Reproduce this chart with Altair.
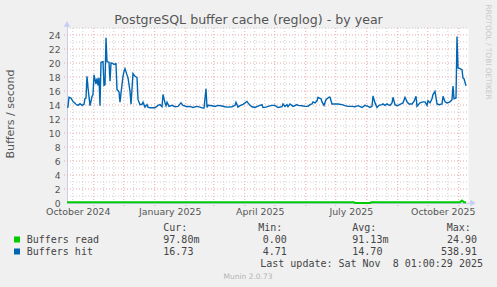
import altair as alt
import pandas as pd

# ---------------- data ----------------
# day offsets from the left edge of the plotted range (start date below)
hit_day = [
    0, 1, 2, 4, 6, 7, 9, 11, 13, 15,
    17, 18, 19, 20, 21, 23, 25, 26, 27, 29,
    30, 31, 32, 33, 34, 36, 37, 38, 39, 40,
    42, 43, 44, 46, 47, 49, 50, 52, 53, 54,
    56, 57, 58, 60, 61, 63, 64, 66, 68, 70,
    71, 73, 75, 76, 78, 80, 81, 83, 88, 91,
    93, 95, 96, 98, 99, 100, 102, 105, 108, 111,
    114, 116, 120, 123, 126, 130, 133, 136, 137, 139,
    140, 141, 145, 148, 151, 155, 158, 161, 165, 168,
    169, 171, 173, 176, 180, 181, 183, 185, 188, 191,
    195, 196, 199, 201, 205, 208, 211, 215, 216, 218,
    220, 221, 223, 226, 230, 231, 235, 238, 241, 243,
    245, 246, 248, 250, 251, 252, 254, 255, 257, 259,
    260, 262, 263, 265, 268, 271, 275, 278, 281, 285,
    288, 291, 295, 298, 301, 303, 305, 306, 308, 310,
    312, 315, 316, 318, 320, 321, 323, 325, 326, 328,
    330, 331, 334, 336, 338, 340, 342, 345, 347, 349,
    350, 353, 356, 358, 360, 361, 363, 365, 366, 368,
    370, 372, 375, 376, 378, 380, 383, 385, 386, 387,
    389, 390, 391, 393, 395, 396, 397, 399,
]
hit_value = [
    13.7, 13.7, 15.1, 15.0, 14.5, 14.4, 14.1, 13.95, 14.2, 13.95,
    14.1, 14.9, 15.0, 18.1, 16.5, 13.9, 15.2, 15.5, 18.3, 17.0,
    17.8, 16.8, 17.9, 13.9, 20.1, 20.2, 16.8, 16.9, 23.6, 20.2,
    20.1, 17.4, 20.0, 19.9, 19.8, 19.9, 16.2, 15.9, 14.4, 15.7,
    18.1, 18.8, 19.2, 18.3, 17.9, 15.95, 14.1, 18.5, 18.1, 17.95,
    14.8, 14.05, 14.1, 14.4, 13.7, 14.05, 13.7, 13.6, 13.6, 13.95,
    14.05, 13.75, 15.5, 14.3, 13.9, 14.4, 13.8, 13.95, 13.75, 13.8,
    14.3, 13.95, 13.75, 13.8, 13.65, 13.8, 13.7, 13.55, 13.55, 16.3,
    13.65, 13.95, 13.9, 13.8, 13.95, 13.85, 13.75, 13.7, 13.75, 13.95,
    14.4, 13.7, 13.9, 14.1, 14.5, 14.3, 13.95, 13.75, 13.65, 13.85,
    14.05, 13.65, 13.7, 13.8, 13.95, 13.95, 13.65, 13.75, 14.15, 13.8,
    14.05, 13.75, 14.15, 13.8, 14.05, 13.95, 13.9, 13.8, 13.8, 14.05,
    14.15, 14.45, 14.3, 14.6, 15.1, 15.0, 14.9, 14.45, 13.95, 14.75,
    14.9, 15.1, 15.1, 14.15, 14.15, 14.15, 14.05, 13.9, 13.8, 13.8,
    13.75, 13.9, 13.65, 13.95, 13.8, 13.65, 13.8, 15.3, 14.3, 13.65,
    13.95, 14.05, 14.15, 13.95, 14.15, 14.05, 13.95, 14.3, 15.1, 14.05,
    13.9, 13.95, 14.15, 14.3, 15.1, 14.45, 14.15, 14.15, 14.5, 15.25,
    13.8, 14.3, 14.45, 14.45, 13.95, 14.6, 14.3, 14.9, 15.5, 15.95,
    14.15, 14.05, 14.15, 15.25, 14.45, 14.3, 14.45, 14.75, 16.7, 14.9,
    15.0, 23.8, 19.3, 19.2, 19.05, 17.85, 17.75, 16.73,
]
read_day = [0, 287, 288, 303, 304, 393, 395, 397, 399]
read_value = [0.1, 0.1, 0.0, 0.0, 0.1, 0.1, 0.35, 0.1, 0.1]

y_major = [0, 2, 4, 6, 8, 10, 12, 14, 16, 18, 20, 22, 24]
y_minor = [1, 3, 5, 7, 9, 11, 13, 15, 17, 19, 21, 23, 25]
month_starts = ["2024-11-01", "2024-12-01", "2025-01-01", "2025-02-01", "2025-03-01",
                "2025-04-01", "2025-05-01", "2025-06-01", "2025-07-01", "2025-08-01",
                "2025-09-01", "2025-10-01", "2025-11-01"]
minor_days = ["2024-10-11", "2024-10-21", "2024-11-11", "2024-11-21", "2024-12-11",
              "2024-12-21", "2025-01-11", "2025-01-21", "2025-02-11", "2025-02-21",
              "2025-03-11", "2025-03-21", "2025-04-11", "2025-04-21", "2025-05-11",
              "2025-05-21", "2025-06-11", "2025-06-21", "2025-07-11", "2025-07-21",
              "2025-08-11", "2025-08-21", "2025-09-11", "2025-09-21", "2025-10-11",
              "2025-10-21"]
label_dates = ["2024-10-16", "2025-01-16", "2025-04-16", "2025-07-16", "2025-10-16"]

legend_names = ["Buffers read", "Buffers hit"]
legend_colors = ["#00CC00", "#0066B3"]
cur_vals = ["97.80m", "16.73"]
min_vals = ["0.00", "4.71"]
avg_vals = ["91.13m", "14.70"]
max_vals = ["24.90", "538.91"]

title_text = "PostgreSQL buffer cache (reglog) - by year"
y_title = "Buffers / second"
last_update = "Last update: Sat Nov\u00a0\u00a08 01:00:29 2025"
footer = "Munin 2.0.73"
side_text = "RRDTOOL / TOBI OETIKER"

# ---------------- helpers ----------------
start = pd.Timestamp("2024-10-05T06:00:00Z")
n_days = 401


def iso(ts):
    return ts.strftime("%Y-%m-%dT%H:%M:%SZ")


def ms(ts):
    return int(ts.timestamp() * 1000)


hit_df = pd.DataFrame({
    "date": [iso(start + pd.Timedelta(days=d)) for d in hit_day],
    "value": hit_value,
})
read_df = pd.DataFrame({
    "date": [iso(start + pd.Timedelta(days=d)) for d in read_day],
    "value": read_value,
})
month_df = pd.DataFrame({"date": [s + "T00:00:00Z" for s in month_starts]})
minor_df = pd.DataFrame({"date": [s + "T00:00:00Z" for s in minor_days]})
ymaj_df = pd.DataFrame({"value": [v for v in y_major if v > 0]})
ymin_df = pd.DataFrame({"value": y_minor})

W, H = 401, 175
AXIS_COL = "#c6cdf3"
MAJ_COL = "#e8a8a8"
MIN_COL = "#cfcfcf"

xscale = alt.Scale(type="utc", domain=[ms(start), ms(start + pd.Timedelta(days=n_days))])
yscale = alt.Scale(domain=[0, 25], nice=False, zero=False)

xaxis = alt.Axis(values=[ms(pd.Timestamp(d + "T00:00:00Z")) for d in label_dates],
                 labelExpr="utcFormat(datum.value, '%B %Y')", ticks=False, grid=False,
                 domainColor=AXIS_COL, labelPadding=4, labelFlush=False,
                 labelOverlap=False, labelBound=False, title=None,
                 labelFont="DejaVu Sans", labelFontSize=9.4, labelColor="#555555")
yaxis = alt.Axis(values=y_major, ticks=False, grid=False, domainColor=AXIS_COL,
                 labelPadding=7, labelFlush=False, labelOverlap=False, title=None,
                 labelFont="DejaVu Sans", labelFontSize=9.2, labelColor="#555555")

X = alt.X("date:T", scale=xscale, axis=xaxis)
Y = alt.Y("value:Q", scale=yscale, axis=yaxis)

one = pd.DataFrame({"k": [0]})


def txt(s, x, y, size=10, font="DejaVu Sans Mono", color="#444444",
        align="left", angle=0, baseline="alphabetic"):
    return alt.Chart(one).mark_text(
        text=s, font=font, fontSize=size, color=color, align=align,
        baseline=baseline, angle=angle
    ).encode(x=alt.value(x), y=alt.value(y))


# ---------------- layers ----------------
grid_min_h = alt.Chart(ymin_df).mark_rule(color=MIN_COL, strokeDash=[1, 2], strokeWidth=1).encode(
    y=Y, x=alt.value(0), x2=alt.value(W))
grid_maj_h = alt.Chart(ymaj_df).mark_rule(color=MAJ_COL, strokeDash=[1, 2], strokeWidth=1).encode(
    y=Y, x=alt.value(-3), x2=alt.value(W))
grid_min_v = alt.Chart(minor_df).mark_rule(color=MIN_COL, strokeDash=[1, 2], strokeWidth=1).encode(
    x=X, y=alt.value(0), y2=alt.value(H))
grid_maj_v = alt.Chart(month_df).mark_rule(color=MAJ_COL, strokeDash=[1, 2], strokeWidth=1).encode(
    x=X, y=alt.value(0), y2=alt.value(H + 3))

read_line = alt.Chart(read_df).mark_line(color="#00CC00", strokeWidth=2).encode(x=X, y=Y)
hit_line = alt.Chart(hit_df).mark_line(color="#0066B3", strokeWidth=1.4).encode(x=X, y=Y)

arrow_up = alt.Chart(one).mark_point(shape="triangle-up", filled=True, size=40,
                                     color=AXIS_COL, opacity=1).encode(
    x=alt.value(0), y=alt.value(-4))
arrow_right = alt.Chart(one).mark_point(shape="triangle-right", filled=True, size=40,
                                        color=AXIS_COL, opacity=1).encode(
    x=alt.value(W + 5), y=alt.value(H))
ext_up = alt.Chart(one).mark_rule(color=AXIS_COL).encode(
    x=alt.value(0), y=alt.value(-4), y2=alt.value(0))
ext_right = alt.Chart(one).mark_rule(color=AXIS_COL).encode(
    x=alt.value(W), x2=alt.value(W + 5), y=alt.value(H))

texts = [
    txt(title_text, 181.5, -4, size=12.6, font="DejaVu Sans", color="#555555", align="center"),
    txt(y_title, -56, 86, size=11, font="DejaVu Sans", color="#555555",
        align="center", angle=270, baseline="middle"),
    txt(side_text, 420.5, 24, size=7.4, font="DejaVu Sans", color="#c8c8c8",
        align="center", angle=90, baseline="middle"),
    txt("Cur:", 96.3, 203),
    txt("Min:", 191.3, 203),
    txt("Avg:", 285.3, 203),
    txt("Max:", 379.7, 203),
    txt(last_update, 416, 239, align="right"),
    txt(footer, 181, 251, size=7.5, font="DejaVu Sans", color="#b4b4b4", align="center"),
]
row_base = [215, 227]
for i, name in enumerate(legend_names):
    yb = row_base[i]
    texts.append(alt.Chart(one).mark_rect(color=legend_colors[i]).encode(
        x=alt.value(-53), x2=alt.value(-47), y=alt.value(yb - 6.5), y2=alt.value(yb - 0.5)))
    texts.append(txt(name, -40.3, yb))
    texts.append(txt(cur_vals[i], 96.3, yb))
    texts.append(txt(min_vals[i], 195.7, yb))
    texts.append(txt(avg_vals[i], 285.3, yb))
    texts.append(txt(max_vals[i], 410, yb, align="right"))

chart = alt.layer(
    grid_min_h, grid_min_v, grid_maj_h, grid_maj_v,
    read_line, hit_line,
    ext_up, ext_right, arrow_up, arrow_right,
    *texts
).properties(
    width=W, height=H,
    background="#F0F0F0",
    padding={"left": 67, "top": 28, "right": 29, "bottom": 84},
    autosize=alt.AutoSizeParams(type="none"),
).configure_view(fill="white", stroke="transparent")

chart.save("out.html", embed_options={"renderer": "svg", "actions": False})
